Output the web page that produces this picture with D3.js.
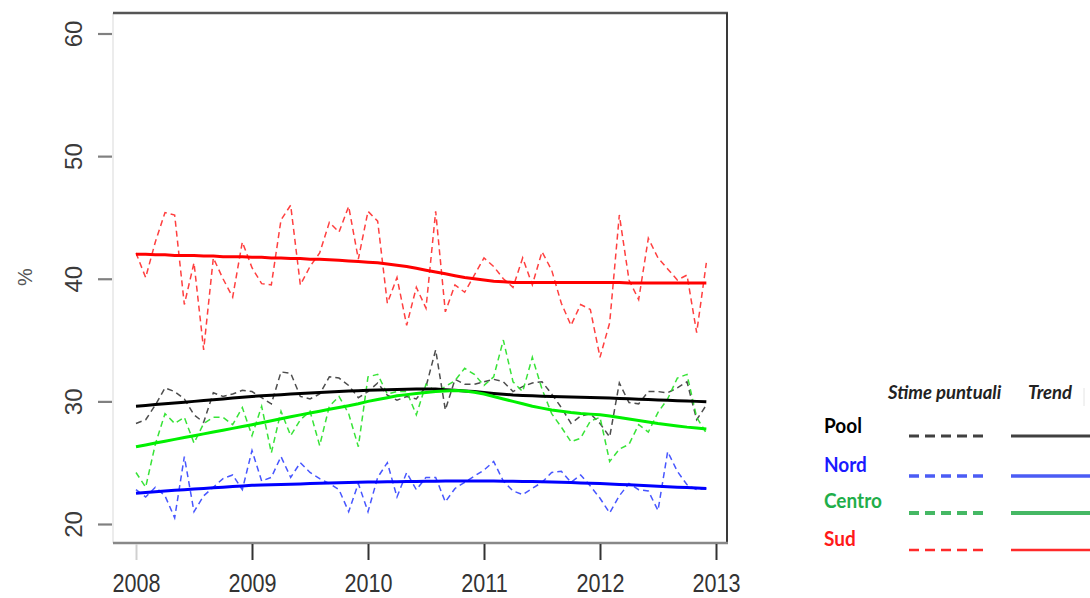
<!DOCTYPE html>
<html>
<head>
<meta charset="utf-8">
<script src="https://cdn.jsdelivr.net/npm/d3@7"></script>
<style>
  html, body { margin: 0; padding: 0; background: #fff; }
  svg { display: block; }
</style>
</head>
<body>
<svg id="chart" width="1090" height="598"></svg>
<script>
// ---- Data (monthly estimates, Jan 2008 - Dec 2012) ----
const yearTicks = [2008, 2009, 2010, 2011, 2012, 2013];
const yTicks = [20, 30, 40, 50, 60];

const sudPoint = [42.1,40.1,43.0,45.4,45.2,37.9,41.3,34.2,41.7,40.0,
  38.5,43.0,40.9,39.6,39.5,44.8,46.0,39.5,41.0,42.1,
  44.6,43.8,45.9,41.6,45.5,44.7,38.0,40.1,36.2,39.3,
  37.6,45.5,37.3,39.5,38.9,40.3,41.7,41.0,40.0,39.3,
  41.7,39.5,42.2,40.7,38.0,36.2,37.9,37.5,33.6,36.4,
  45.2,39.9,38.3,43.3,41.7,40.8,39.9,40.3,35.6,41.3];
const nordPoint = [22.8,22.2,23.0,22.3,20.5,25.5,21.0,22.3,23.0,23.7,
  24.0,22.8,26.0,23.5,23.8,25.5,23.8,25.0,24.2,23.7,
  23.3,22.8,21.0,23.3,21.0,23.8,25.0,22.2,24.2,22.8,
  23.8,23.8,21.8,22.9,23.4,23.9,24.4,25.1,23.5,22.7,
  22.4,22.9,23.4,24.2,24.3,23.4,24.0,23.1,22.1,20.9,
  22.3,23.3,22.8,22.7,21.1,25.9,24.3,23.2,22.8,22.9];
const poolPoint = [28.2,28.5,29.7,31.1,30.8,30.2,28.9,28.3,30.7,30.4,
  30.6,30.9,30.8,30.3,29.8,32.4,32.3,30.4,30.2,30.6,
  32.0,31.9,31.3,30.3,30.8,31.5,30.5,30.1,30.4,30.2,
  31.2,34.2,29.3,31.8,31.4,31.4,31.6,31.8,31.6,30.8,
  31.2,31.5,31.6,30.6,29.5,28.2,28.8,29.0,28.2,27.1,
  31.5,29.9,29.8,30.8,30.8,30.7,31.1,31.6,28.5,29.7];
const centroPoint = [24.2,23.0,26.5,29.0,28.2,28.7,26.6,28.2,28.7,28.7,
  28.1,29.5,27.2,29.6,25.8,29.2,27.2,28.5,29.2,26.4,
  29.6,30.4,29.0,26.3,32.0,32.2,30.6,30.8,30.8,28.9,
  31.4,30.8,31.2,31.7,32.7,32.2,31.3,32.0,35.0,31.6,
  30.8,33.6,31.0,29.0,27.9,26.7,27.0,28.4,28.7,25.1,
  26.1,26.5,28.1,27.5,29.1,30.2,31.9,32.2,28.7,27.4];

const sudTrend = [42.0,42.0,41.95,41.95,41.9,41.9,41.9,41.85,41.85,41.8,
  41.8,41.8,41.75,41.75,41.7,41.7,41.65,41.65,41.6,41.6,
  41.55,41.5,41.45,41.4,41.35,41.3,41.2,41.1,41.0,40.85,
  40.7,40.55,40.4,40.25,40.1,40.0,39.9,39.8,39.75,39.7,
  39.7,39.7,39.7,39.7,39.7,39.7,39.7,39.7,39.7,39.7,
  39.7,39.65,39.65,39.65,39.65,39.65,39.65,39.65,39.65,39.65];
const nordTrend = [22.5,22.57,22.63,22.7,22.75,22.8,22.85,22.9,22.95,23.0,
  23.05,23.1,23.15,23.18,23.2,23.23,23.25,23.27,23.3,23.32,
  23.34,23.36,23.38,23.4,23.42,23.43,23.44,23.45,23.46,23.47,
  23.48,23.49,23.5,23.5,23.5,23.5,23.5,23.5,23.49,23.48,
  23.47,23.46,23.44,23.42,23.4,23.38,23.35,23.32,23.3,23.27,
  23.23,23.2,23.16,23.12,23.08,23.04,23.0,22.97,22.93,22.9];
const poolTrend = [29.6,29.67,29.74,29.8,29.87,29.93,30.0,30.07,30.13,30.2,
  30.27,30.33,30.4,30.45,30.5,30.55,30.6,30.64,30.68,30.72,
  30.76,30.8,30.84,30.87,30.9,30.93,30.95,30.97,30.98,31.0,
  31.0,31.0,30.95,30.9,30.85,30.8,30.72,30.65,30.58,30.52,
  30.48,30.45,30.42,30.4,30.38,30.36,30.34,30.32,30.3,30.27,
  30.24,30.21,30.18,30.15,30.12,30.09,30.06,30.03,30.0,29.97];
const centroTrend = [26.3,26.45,26.6,26.75,26.9,27.05,27.2,27.35,27.5,27.65,
  27.8,27.95,28.1,28.26,28.42,28.58,28.74,28.9,29.05,29.2,
  29.35,29.5,29.65,29.8,30.0,30.15,30.3,30.45,30.55,30.65,
  30.72,30.8,30.85,30.88,30.85,30.75,30.6,30.4,30.2,30.0,
  29.8,29.6,29.45,29.3,29.2,29.1,29.02,28.96,28.9,28.8,
  28.68,28.56,28.44,28.32,28.2,28.1,28.0,27.9,27.82,27.75];

const seriesNames = ["Pool", "Nord", "Centro", "Sud"];

// ---- Drawing ----
const svg = d3.select("#chart");
const x = d3.scaleLinear().domain([2008, 2013]).range([136, 716]);
const y = d3.scaleLinear().domain([20, 60]).range([524, 33.5]);
const t = i => 2008 + i / 12;

const line = d3.line().x((d, i) => x(t(i))).y(d => y(d));

// frame
const box = { l: 113, r: 727, t: 13, b: 543 };
svg.append("line").attr("x1", box.l).attr("x2", box.l).attr("y1", box.t).attr("y2", box.b)
  .attr("stroke", "#e6e6e6").attr("stroke-width", 1.5);
svg.append("line").attr("x1", box.l).attr("x2", box.r + 1).attr("y1", box.t).attr("y2", box.t)
  .attr("stroke", "#555").attr("stroke-width", 2.5);
svg.append("line").attr("x1", box.r).attr("x2", box.r).attr("y1", box.t).attr("y2", box.b)
  .attr("stroke", "#3a3a3a").attr("stroke-width", 2);
svg.append("line").attr("x1", box.l).attr("x2", box.r + 1).attr("y1", box.b).attr("y2", box.b)
  .attr("stroke", "#888").attr("stroke-width", 2.5);

// axes
const yAxis = d3.axisLeft(y).tickValues(yTicks).tickSize(14).tickFormat(d3.format("d"));
const gy = svg.append("g").attr("transform", "translate(112,0)").call(yAxis);
gy.select(".domain").remove();
gy.selectAll(".tick line").attr("stroke", "#808080").attr("stroke-width", 2.2);
gy.selectAll(".tick text")
  .attr("x", null).attr("dy", null)
  .attr("transform", "translate(-30,0) rotate(-90)")
  .attr("text-anchor", "middle")
  .attr("fill", "#3a3a3a")
  .style("font-family", "'Liberation Sans', Arial, sans-serif")
  .style("font-size", "24px");

const xAxis = d3.axisBottom(x).tickValues(yearTicks).tickSize(16).tickFormat(d3.format("d"));
const gx = svg.append("g").attr("transform", "translate(0,544)").call(xAxis);
gx.select(".domain").remove();
gx.selectAll(".tick line").attr("stroke", (d, i) => i === 0 ? "#d0d0d0" : "#333").attr("stroke-width", 2);
gx.selectAll(".tick text")
  .attr("y", null).attr("dy", null)
  .attr("transform", "translate(0,48) scale(0.9,1.06)")
  .attr("text-anchor", "middle")
  .attr("fill", "#333")
  .style("font-family", "'Liberation Sans', Arial, sans-serif")
  .style("font-size", "24px");

// y label
svg.append("text").attr("transform", "translate(32,277) rotate(-90)")
  .attr("text-anchor", "middle").attr("fill", "#555")
  .style("font-family", "'Liberation Sans', Arial, sans-serif").style("font-size", "20px")
  .text("%");

// dashed point estimates
const pointSeries = [
  { v: sudPoint, c: "#ff2a2a" },
  { v: poolPoint, c: "#3a3a3a" },
  { v: centroPoint, c: "#22e022" },
  { v: nordPoint, c: "#3344ff" }
];
pointSeries.forEach(s => {
  svg.append("path").datum(s.v).attr("d", line)
    .attr("fill", "none").attr("stroke", s.c).attr("stroke-width", 1.5)
    .attr("stroke-dasharray", "6,4").attr("opacity", 0.9);
});

// trends
const trendSeries = [
  { v: poolTrend, c: "#000000" },
  { v: centroTrend, c: "#00f000" },
  { v: nordTrend, c: "#0000ff" },
  { v: sudTrend, c: "#ff0000" }
];
trendSeries.forEach(s => {
  svg.append("path").datum(s.v).attr("d", line)
    .attr("fill", "none").attr("stroke", s.c).attr("stroke-width", 3);
});

// legend
const legFont = "Lato, 'Open Sans', sans-serif";
svg.append("text").attr("x", 888).attr("y", 399)
  .style("font-family", legFont).style("font-size", "18.5px").style("font-weight", "bold").style("font-style", "italic")
  .attr("fill", "#222").text("Stime puntuali");
svg.append("text").attr("x", 1028).attr("y", 399)
  .style("font-family", legFont).style("font-size", "18.5px").style("font-weight", "bold").style("font-style", "italic")
  .attr("fill", "#222").text("Trend");
svg.append("line").attr("x1", 1084).attr("x2", 1084).attr("y1", 388).attr("y2", 406)
  .attr("stroke", "#e4e4e4").attr("stroke-width", 1);

const legendItems = [
  { name: seriesNames[0], tc: "#000000", lc: "#404040", ty: 433, ly: 436, w: 3 },
  { name: seriesNames[1], tc: "#1a1aff", lc: "#4b5cf5", ty: 472, ly: 476, w: 3.5 },
  { name: seriesNames[2], tc: "#1fae4a", lc: "#45b864", ty: 508, ly: 513, w: 4 },
  { name: seriesNames[3], tc: "#ff1a1a", lc: "#ff2a2a", ty: 546, ly: 550, w: 2.5 }
];
const lg = svg.append("g");
legendItems.forEach(d => {
  lg.append("text").attr("transform", `translate(824,${d.ty}) scale(1,1.1)`)
    .style("font-family", legFont).style("font-size", "19px").style("font-weight", "bold")
    .attr("fill", d.tc).text(d.name);
  lg.append("line").attr("x1", 909).attr("x2", 983).attr("y1", d.ly).attr("y2", d.ly)
    .attr("stroke", d.lc).attr("stroke-width", d.w).attr("stroke-dasharray", "10,6");
  lg.append("line").attr("x1", 1011).attr("x2", 1092).attr("y1", d.ly).attr("y2", d.ly)
    .attr("stroke", d.lc).attr("stroke-width", d.w);
});
</script>
</body>
</html>
